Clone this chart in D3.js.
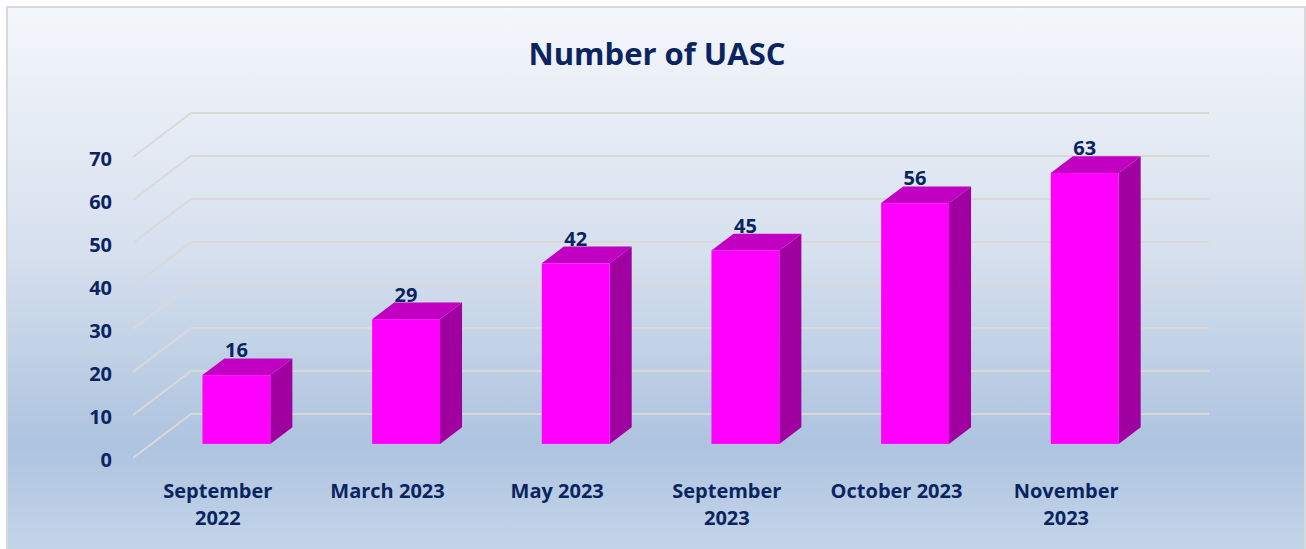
<!DOCTYPE html>
<html>
<head>
<meta charset="utf-8">
<script src="https://cdn.jsdelivr.net/npm/d3@7"></script>
<style>
  html, body { margin: 0; padding: 0; background: #fff; }
  svg text { font-family: "Open Sans", "Noto Sans", sans-serif; font-weight: bold; fill: #0a2460; }
</style>
</head>
<body>
<div id="chart"></div>
<script>
// chart data
var categories = ["September 2022", "March 2023", "May 2023", "September 2023", "October 2023", "November 2023"];
var values = [16, 29, 42, 45, 56, 63];
var yTicks = [0, 10, 20, 30, 40, 50, 60, 70];
var chartTitle = "Number of UASC";

var W = 1306, H = 549;
var depth = {dx: 58, dy: -44};      // floor depth vector
var barDepth = [0.32, 0.70];         // bar position inside the depth

var svg = d3.select("#chart").append("svg")
  .attr("width", W).attr("height", H);

// background panel
var grad = svg.append("defs").append("linearGradient")
  .attr("id", "bg").attr("x1", 0).attr("y1", 0).attr("x2", 0).attr("y2", 1);
grad.append("stop").attr("offset", "0%").attr("stop-color", "#f4f7fb");
grad.append("stop").attr("offset", "45%").attr("stop-color", "#d6e0ee");
grad.append("stop").attr("offset", "80%").attr("stop-color", "#adc3df");
grad.append("stop").attr("offset", "100%").attr("stop-color", "#c6d6ea");

svg.append("rect")
  .attr("x", 7).attr("y", 7).attr("width", 1298).attr("height", 548)
  .attr("fill", "url(#bg)").attr("stroke", "#d9d9d9").attr("stroke-width", 2);

// scales on the front plane
var x = d3.scaleBand().domain(categories).range([133, 1151]).paddingInner(0).paddingOuter(0);
var y = d3.scaleLinear().domain([0, 70]).range([458, 157]);
var barW = x.bandwidth() / 2.5;

// gridlines: side wall diagonal + back wall
var grid = svg.append("g").attr("stroke", "#d9d9d9").attr("stroke-width", 2).attr("fill", "none");
yTicks.forEach(function(t){
  var x0 = x.range()[0], y0 = y(t);
  grid.append("path")
    .attr("d", "M" + x0 + "," + y0 + "L" + (x0 + depth.dx) + "," + (y0 + depth.dy) +
      "L" + (x.range()[1] + depth.dx) + "," + (y0 + depth.dy));
});

// y tick labels
svg.append("g").selectAll("text").data(yTicks).enter().append("text")
  .attr("x", 112).attr("y", function(d){ return y(d) + 9; })
  .attr("text-anchor", "end").style("font-size", "20px")
  .text(function(d){ return d; });

// bars
var f0 = barDepth[0], f1 = barDepth[1];
var bars = svg.append("g").selectAll("g").data(values).enter().append("g");

function pt(px, py){ return px + "," + py; }

bars.each(function(v, i){
  var g = d3.select(this);
  var left = x(categories[i]) + (x.bandwidth() - barW) / 2 + depth.dx * f0;
  var right = left + barW;
  var bottom = y(0) + depth.dy * f0;
  var top = y(v) + depth.dy * f0;
  var ddx = depth.dx * (f1 - f0), ddy = depth.dy * (f1 - f0);

  g.append("polygon").attr("fill", "#a100a1")
    .attr("points", [pt(right, top), pt(right + ddx, top + ddy), pt(right + ddx, bottom + ddy), pt(right, bottom)].join(" "));
  g.append("polygon").attr("fill", "#c100c1")
    .attr("points", [pt(left, top), pt(left + ddx, top + ddy), pt(right + ddx, top + ddy), pt(right, top)].join(" "));
  g.append("rect").attr("fill", "#ff00ff")
    .attr("x", left).attr("y", top).attr("width", barW).attr("height", bottom - top);

  g.append("text")
    .attr("x", left + barW / 2).attr("y", top + ddy - 1)
    .attr("text-anchor", "middle").style("font-size", "20px")
    .text(v);
});

// category labels, wrapped like the original
var catLabels = svg.append("g").selectAll("text").data(categories).enter().append("text")
  .attr("text-anchor", "middle").style("font-size", "20px")
  .attr("y", 498);

catLabels.each(function(d){
  var t = d3.select(this);
  var cx = x(d) + x.bandwidth() / 2;
  t.append("tspan").attr("x", cx).text(d);
  if (this.getComputedTextLength() > 145) {
    var words = d.split(" ");
    t.text("");
    t.append("tspan").attr("x", cx).text(words.slice(0, -1).join(" "));
    t.append("tspan").attr("x", cx).attr("dy", 27).text(words[words.length - 1]);
  }
});

// title
svg.append("text")
  .attr("x", 657).attr("y", 65).attr("text-anchor", "middle")
  .style("font-size", "31px")
  .text(chartTitle);
</script>
</body>
</html>
